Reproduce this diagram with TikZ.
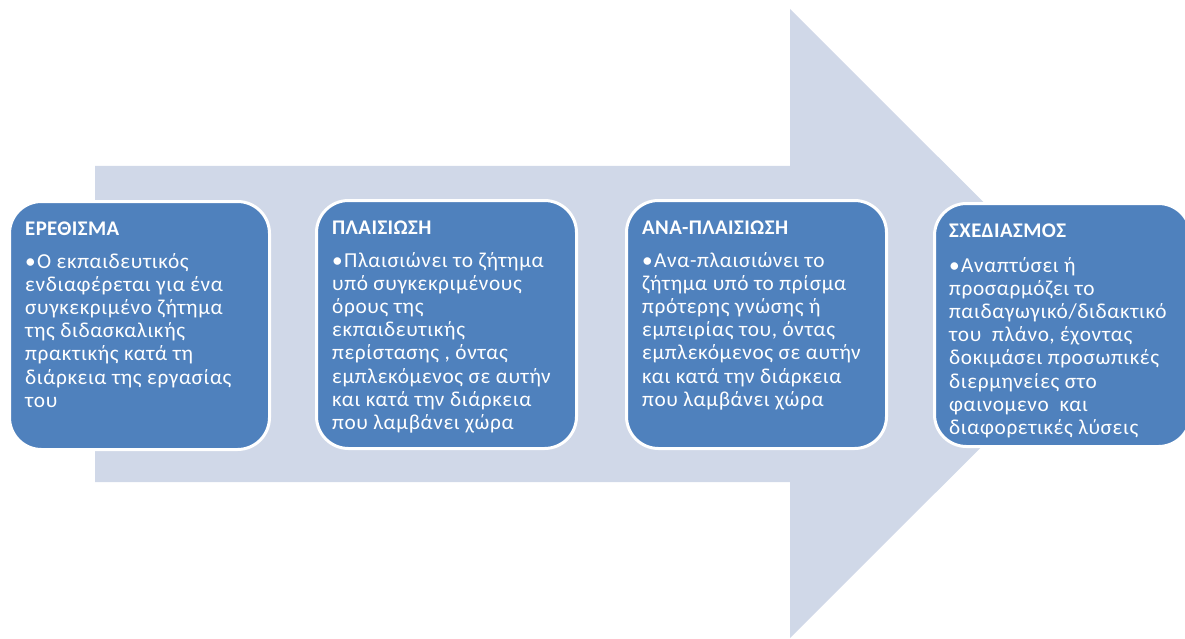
\documentclass[tikz,border=0pt]{standalone}
\usepackage{fontspec}
\setmainfont{Carlito}
\newfontfamily\stagefont[LetterSpace=3]{Carlito}
\newfontfamily\stageheadfont[LetterSpace=2]{Carlito}
\definecolor{stepblue}{HTML}{4F81BD}
\definecolor{arrowgrey}{HTML}{D0D8E8}
% bullet paragraph with a hanging indent, lines broken by hand
\newcommand{\stagetext}[1]{\parbox[t]{300pt}{\stagefont\fontsize{21.3}{23.2}\selectfont\raggedright
  \hangindent=12pt\hangafter=1\noindent\makebox[12pt][l]{\textbullet}#1}}
\begin{document}
\begin{tikzpicture}[x=1pt,y=-1pt,
  stagebox/.style={draw=white, line width=3pt, fill=stepblue, rounded corners=32pt,
    minimum width=260pt, minimum height=248pt, anchor=north west, inner sep=0pt},
  stagetitle/.style={anchor=base west, inner sep=0pt, text=white,
    font=\stageheadfont\fontsize{20.8}{24}\selectfont\bfseries},
  stagebody/.style={anchor=base west, inner sep=0pt, text=white}]
\useasboundingbox (0,0) rectangle (1185,639);

% large background arrow
\fill[arrowgrey] (95,166) -- (790,166) -- (790,9) -- (1105,323.5)
  -- (790,638) -- (790,482) -- (95,482) -- cycle;

% stage 1
\node[stagebox] (s1) at (8,200) {};
\node[stagetitle] (t1) at ([shift={(17,35)}]s1.north west) {ΕΡΕΘΙΣΜΑ};
\node[stagebody] (b1) at ([shift={(17,68)}]s1.north west) {\stagetext{Ο εκπαιδευτικός\\
ενδιαφέρεται για ένα\\
συγκεκριμένο ζήτημα\\
της διδασκαλικής\\
πρακτικής κατά τη\\
διάρκεια της εργασίας\\
του}};

% stage 2
\node[stagebox] (s2) at (315,199) {};
\node[stagetitle] (t2) at ([shift={(17,35)}]s2.north west) {ΠΛΑΙΣΙΩΣΗ};
\node[stagebody] (b2) at ([shift={(17,68)}]s2.north west) {\stagetext{Πλαισιώνει το ζήτημα\\
υπό συγκεκριμένους\\
όρους της\\
εκπαιδευτικής\\
περίστασης , όντας\\
εμπλεκόμενος σε αυτήν\\
και κατά την διάρκεια\\
που λαμβάνει χώρα}};

% stage 3
\node[stagebox] (s3) at (625,199) {};
\node[stagetitle] (t3) at ([shift={(17,35)}]s3.north west) {ΑΝΑ-ΠΛΑΙΣΙΩΣΗ};
\node[stagebody] (b3) at ([shift={(17,68)}]s3.north west) {\stagetext{Ανα-πλαισιώνει το\\
ζήτημα υπό το πρίσμα\\
πρότερης γνώσης ή\\
εμπειρίας του, όντας\\
εμπλεκόμενος σε αυτήν\\
και κατά την διάρκεια\\
που λαμβάνει χώρα}};

% stage 4
\node[stagebox, minimum width=256pt, minimum height=243pt] (s4) at (933,202) {};
\node[stagetitle] (t4) at ([shift={(16,35)}]s4.north west) {ΣΧΕΔΙΑΣΜΟΣ};
\node[stagebody] (b4) at ([shift={(16,70)}]s4.north west) {\stagetext{Αναπτύσει ή\\
προσαρμόζει το\\
παιδαγωγικό/διδακτικό\\
του\ \ πλάνο, έχοντας\\
δοκιμάσει προσωπικές\\
διερμηνείες στο\\
φαινομενο\ \ και\\
διαφορετικές λύσεις}};
\end{tikzpicture}
\end{document}
